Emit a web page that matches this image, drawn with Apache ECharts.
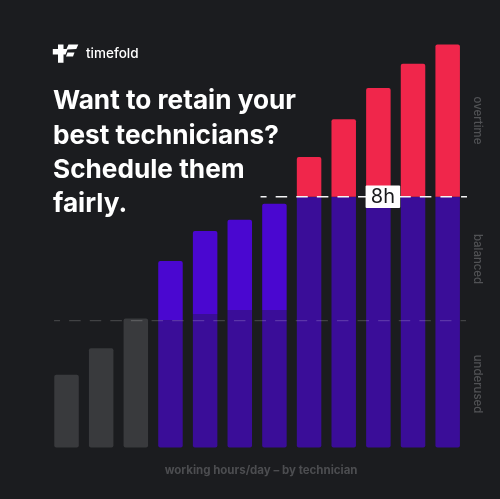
<!DOCTYPE html>
<html lang="en">
<head>
  <meta charset="UTF-8">
  <title>timefold</title>
  <style>
    html, body { margin: 0; background: #1b1c1f; }
    #chart { width: 500px; height: 499px; }
  </style>
  <script src="https://cdn.jsdelivr.net/npm/echarts@6/dist/echarts.min.js"></script>
</head>
<body>
<div id="chart"></div>
<script>
  const technicians = ['T1', 'T2', 'T3', 'T4', 'T5', 'T6', 'T7', 'T8', 'T9', 'T10', 'T11', 'T12'];

  // hours per technician, split by zone
  const underused = [2.32, 3.17, 4.12, 0, 0, 0, 0, 0, 0, 0, 0, 0];
  const baseHours = [0, 0, 0, 4.05, 4.26, 4.39, 4.39, 8, 8, 8, 8, 8];
  const balanced = [0, 0, 0, 1.9, 2.65, 2.88, 3.39, 0, 0, 0, 0, 0];
  const overtime = [0, 0, 0, 0, 0, 0, 0, 1.27, 2.47, 3.47, 4.24, 4.86];

  const lowLimit = 4.05;
  const highLimit = 8;
  const lowLineX = [0.14, 12.62];
  const highLineX = [6.1, 12.62];
  const limitLabelX = 9.63;

  const headline = ['Want to retain your', 'best technicians?', 'Schedule them', 'fairly.'];
  const sideLabels = [['overtime', 120.5], ['balanced', 259], ['underused', 384]];

  const FONT = 'Inter, sans-serif';
  const chart = echarts.init(document.getElementById('chart'), null, { renderer: 'canvas' });

  function barSeries(name, data, color, radius) {
    return {
      name, type: 'bar', stack: 'hours', data, barWidth: 24.5,
      silent: true,
      itemStyle: { color, borderRadius: radius }
    };
  }

  function limitLine(xs, y, color, width) {
    return {
      type: 'line', xAxisIndex: 1, yAxisIndex: 0, symbol: 'none', clip: false, silent: true, z: 5,
      data: xs.map(x => [x, y]),
      lineStyle: { color, width, type: [11.5, 9.1], dashOffset: 5.5 }
    };
  }

  const logo = [
    [[58, 44.5], [63.5, 44.5], [63.5, 49], [66.5, 49], [68.5, 44.5], [78.3, 44.5], [76.3, 49], [67.5, 49.5], [65.5, 54.5], [63.5, 54.5], [63.5, 62.7], [58, 62.7], [58, 54.5], [52.8, 54.5], [52.8, 49], [58, 49]],
    [[67.5, 52.5], [74.5, 52.5], [73, 56.5], [66, 56.5]]
  ];

  chart.setOption({
    animation: false,
    backgroundColor: '#1b1c1f',
    grid: { left: 49.2, top: 40, width: 415.8, bottom: 51.4 },
    xAxis: [
      {
        type: 'category', data: technicians,
        axisLine: { show: false }, axisTick: { show: false }, axisLabel: { show: false },
        name: 'working hours/day – by technician',
        nameLocation: 'middle', nameGap: 17,
        nameTextStyle: { color: '#4c4d50', fontFamily: FONT, fontSize: 11.5, fontWeight: 700, padding: [0, 0, 0, 8] }
      },
      { type: 'value', min: 0, max: 12, show: false }
    ],
    yAxis: { type: 'value', min: 0, max: 13, show: false, splitLine: { show: false } },
    series: [
      barSeries('underused', underused, '#393a3d', 2),
      barSeries('base', baseHours, '#3a0d98', [0, 0, 2, 2]),
      barSeries('balanced', balanced, '#4a07d0', [2, 2, 0, 0]),
      barSeries('overtime', overtime, '#f0264b', [2, 2, 0, 0]),
      limitLine(lowLineX, lowLimit, 'rgba(255,255,255,0.17)', 1.2),
      limitLine(highLineX, highLimit, '#f4f4f6', 1.4),
      {
        type: 'scatter', xAxisIndex: 1, yAxisIndex: 0, symbolSize: 0, silent: true, z: 6,
        itemStyle: { opacity: 1 },
        data: [[limitLabelX, highLimit]],
        label: {
          show: true, position: 'inside', formatter: '8h',
          color: '#17181b', fontFamily: FONT, fontSize: 20, fontWeight: 400,
          backgroundColor: '#ffffff', borderRadius: 1,
          width: 34.6, height: 22.4, lineHeight: 22.4, align: 'center'
        }
      }
    ],
    graphic: [
      ...logo.map(points => ({
        type: 'polygon', shape: { points }, style: { fill: '#ffffff' }
      })),
      {
        type: 'text', left: 86, top: 47,
        style: { text: 'timefold', fill: '#ffffff', font: '500 13.5px ' + FONT }
      },
      ...headline.map((text, i) => ({
        type: 'text', left: 53, top: 88.5 + i * 34.2,
        style: { text, fill: '#ffffff', font: '700 26.2px ' + FONT }
      })),
      ...sideLabels.map(([text, y]) => ({
        type: 'text', x: 477.7, y, rotation: -Math.PI / 2,
        style: { text, fill: '#515255', font: '500 11.4px ' + FONT, align: 'center', verticalAlign: 'middle' }
      }))
    ]
  });
</script>
</body>
</html>
